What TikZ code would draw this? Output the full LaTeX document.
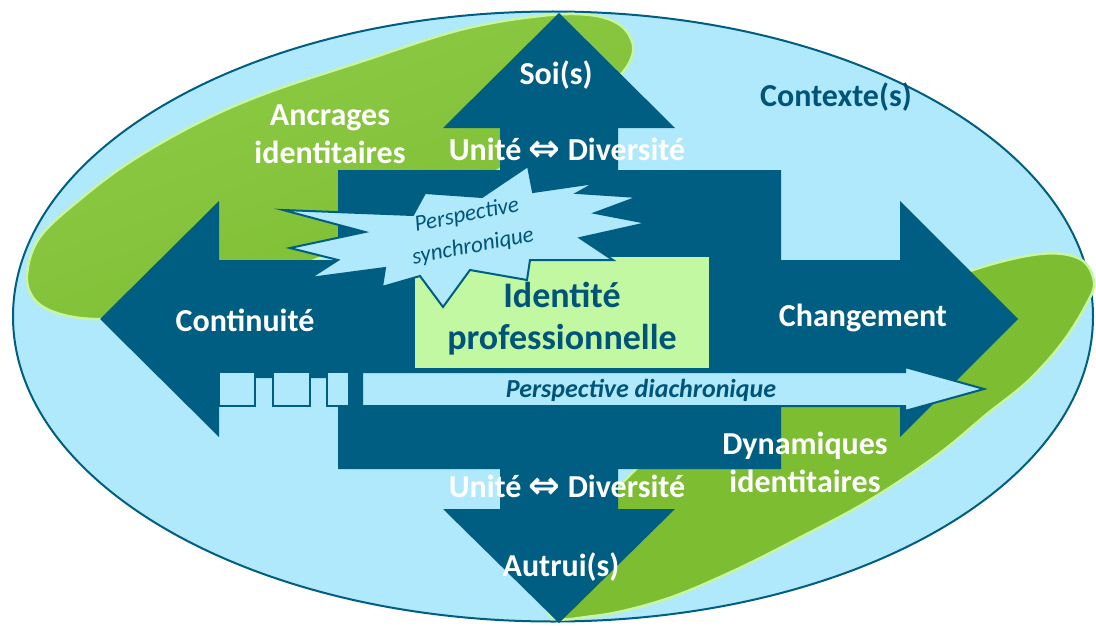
\documentclass[tikz,border=0pt]{standalone}
\usepackage{fontspec}
\setmainfont{Carlito}
\newfontfamily\symfont{DejaVu Sans}
\definecolor{dblue}{RGB}{0,94,130}
\definecolor{lblue}{RGB}{176,233,252}
\definecolor{leafgreen}{RGB}{124,189,50}
\definecolor{leaflight}{RGB}{142,203,70}
\definecolor{rimgreen}{RGB}{200,245,160}
\definecolor{boxgreen}{RGB}{194,248,162}
\definecolor{tblue}{RGB}{0,84,122}
\newcommand{\dblarrow}{{\symfont\fontsize{38}{38}\selectfont\raisebox{-1pt}{⇔}}}
\tikzset{
  wlab/.style={inner sep=0pt, text=white, align=center, font=\bfseries\fontsize{32}{38}\selectfont},
  blab/.style={inner sep=0pt, text=tblue, align=center, font=\bfseries\fontsize{32}{38}\selectfont},
  leaf/.style={fill=leafgreen, draw=rimgreen, line width=2.5pt},
  lbox/.style={fill=lblue, draw=dblue, line width=2pt, line join=miter},
}
\begin{document}
\begin{tikzpicture}[x=1pt,y=-1pt]
\useasboundingbox (0,0) rectangle (1096,626);
\fill[white] (0,0) rectangle (1096,626);
% context ellipse
\draw[fill=lblue, draw=dblue, line width=2pt] (553,316.5) ellipse [x radius=540, y radius=305];
% green leaves
\shadedraw[left color=leaflight, right color=leafgreen, shading angle=20, draw=rimgreen, line width=2.5pt]
 plot[smooth cycle, tension=0.6] coordinates {
 (27,275) (40,237) (83,197) (133,160) (200,122) (267,93) (360,62) (460,30)
 (540,16) (590,15) (620,25) (633,45) (628,65) (610,85) (570,120) (520,155)
 (450,200) (340,250) (230,290) (150,312) (100,319) (60,314) (35,300)};
\filldraw[leaf] plot[smooth cycle, tension=0.6] coordinates {
 (548,612) (594,616) (663,600) (731,572) (799,538) (868,501) (936,456)
 (987,414) (1028,381) (1062,343) (1086,305) (1094,282) (1080,259) (1040,254)
 (973,270) (900,300) (800,350) (700,420) (630,475) (580,540)};
% quad arrow
\fill[dblue] (559,13) -- (675,128) -- (618,128) -- (618,170) -- (781,170) -- (781,260)
 -- (900,260) -- (900,201) -- (1018,319) -- (900,437) -- (900,378) -- (781,378)
 -- (781,469) -- (618,469) -- (618,509) -- (675,509) -- (559,623) -- (443,509)
 -- (500,509) -- (500,469) -- (338,469) -- (338,378) -- (219,378) -- (219,437)
 -- (100,319) -- (219,201) -- (219,260) -- (338,260) -- (338,170) -- (500,170)
 -- (500,128) -- (443,128) -- cycle;
% identity box
\fill[boxgreen] (415,257) rectangle (709,368);
% starburst
\filldraw[lbox] (283,210) -- (413,215) -- (425,193) -- (482,197) -- (528,166)
 -- (533,192) -- (595,183) -- (577,193) -- (638,197) -- (595,213) -- (647,223)
 -- (580,238) -- (613,260) -- (530,260) -- (527,280) -- (470,270) -- (443,307)
 -- (420,276) -- (382,287) -- (385,268) -- (310,278) -- (338,260) -- (290,248)
 -- (365,232) -- cycle;
% squares and diachronic arrow
\filldraw[lbox] (219,372) rectangle (255,406);
\filldraw[lbox] (273,372) rectangle (310,406);
\filldraw[lbox] (327,372) rectangle (349,406);
\filldraw[lbox] (362,372) -- (905,372) -- (905,367) -- (984,389) -- (905,411)
 -- (905,406) -- (362,406) -- cycle;
% texts
\node[wlab] (soi) at (556,75) {Soi(s)};
\node[wlab] (udtop) at (567,150) {Unité \dblarrow{} Diversité};
\node[wlab] (ancr) at (330,134) {Ancrages\\identitaires};
\node[blab] (ctx) at (836,97) {Contexte(s)};
\node[inner sep=0pt, text=tblue, align=center, rotate=11,
      font=\itshape\fontsize{23}{32}\selectfont] (sync) at (470,231) {Perspective\\synchronique};
\node[wlab] (cont) at (245,320) {Continuité};
\node[inner sep=0pt, text=tblue, align=center,
      font=\bfseries\fontsize{36}{42}\selectfont] (idp) at (562,319) {Identité\\professionnelle};
\node[wlab] (chg) at (863,318) {Changement};
\node[inner sep=0pt, text=tblue, font=\bfseries\itshape\fontsize{26}{30}\selectfont] (diac) at (641,390) {Perspective diachronique};
\node[wlab] (dyn) at (805,462) {Dynamiques\\identitaires};
\node[wlab] (udbot) at (567,487) {Unité \dblarrow{} Diversité};
\node[wlab] (autr) at (561,567) {Autrui(s)};
\end{tikzpicture}
\end{document}
